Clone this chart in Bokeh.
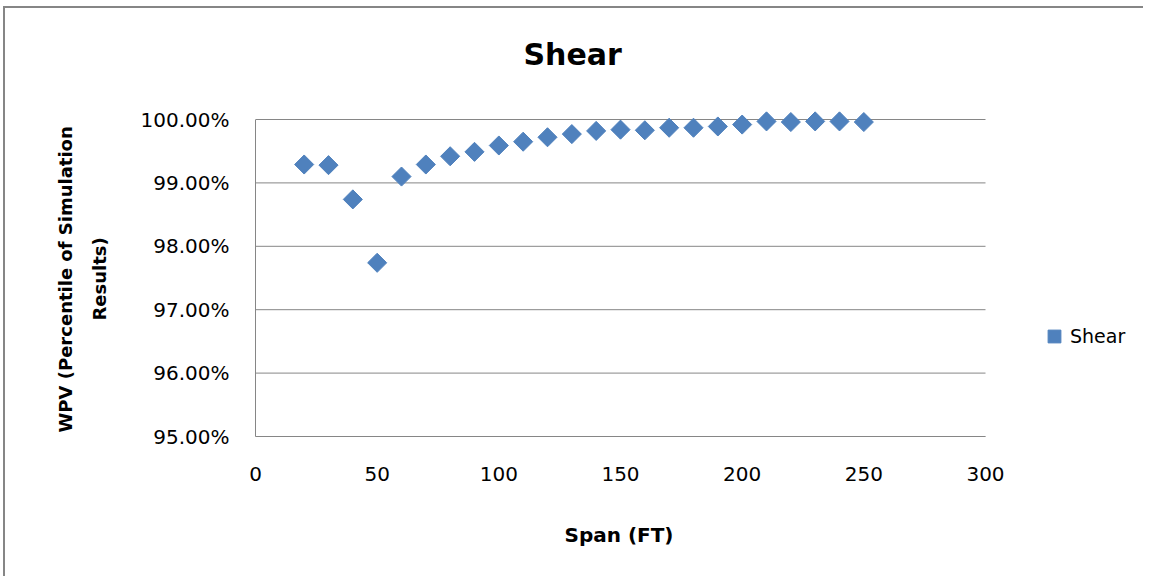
from bokeh.plotting import figure
from bokeh.models import (FixedTicker, PrintfTickFormatter, Range1d, Legend, LegendItem, Title)
from bokeh.embed import file_html
from bokeh.resources import INLINE
import math

span_ft = [20, 30, 40, 50, 60, 70, 80, 90, 100, 110, 120, 130, 140, 150,
           160, 170, 180, 190, 200, 210, 220, 230, 240, 250]
shear_pct = [99.29, 99.28, 98.74, 97.74, 99.10, 99.29, 99.42, 99.49, 99.59, 99.65,
             99.72, 99.77, 99.82, 99.84, 99.83, 99.87, 99.87, 99.89, 99.92, 99.97,
             99.96, 99.97, 99.97, 99.96]
x_ticks = [0, 50, 100, 150, 200, 250, 300]
y_ticks = [95, 96, 97, 98, 99, 100]
x_axis_min, x_axis_max = 0, 300
y_axis_min, y_axis_max = 95, 100

FONT = "DejaVu Sans"
GRID = "#868686"

# frame: axis area 730px x 317px; extra room right (legend) and top (markers)
px_x = 730 / (x_axis_max - x_axis_min)
px_y = 317 / (y_axis_max - y_axis_min)
frame_w = 890
extra_top = 21
x_end = x_axis_min + frame_w / px_x
y_end = y_axis_max + extra_top / px_y

p = figure(width=1140, height=570, output_backend="svg", toolbar_location=None,
           x_range=Range1d(x_axis_min, x_end), y_range=Range1d(y_axis_min, y_end),
           min_border_left=250, min_border_top=90, min_border_bottom=142,
           min_border_right=0)
p.styles = {"border-left": "2px solid #868686", "border-top": "2px solid #868686",
            "margin-left": "3px", "margin-top": "6px"}
p.outline_line_color = None
p.xgrid.visible = False
p.ygrid.visible = False

# horizontal gridlines at the value-axis ticks
p.segment(x0=[x_axis_min] * len(y_ticks), y0=y_ticks,
          x1=[x_axis_max] * len(y_ticks), y1=y_ticks,
          line_color=GRID, line_width=1)

r = p.scatter(span_ft, shear_pct, marker="square", size=13.5, angle=math.pi / 4,
              fill_color="#4F81BD", line_color="#4F81BD")

p.xaxis.ticker = FixedTicker(ticks=x_ticks)
p.yaxis.ticker = FixedTicker(ticks=y_ticks)
p.xaxis.bounds = (x_axis_min, x_axis_max)
p.yaxis.bounds = (y_axis_min, y_axis_max)
p.yaxis.formatter = PrintfTickFormatter(format="%.2f%%")
for ax in (p.xaxis[0], p.yaxis[0]):
    ax.major_tick_line_color = None
    ax.minor_tick_line_color = None
    ax.major_tick_out = 0
    ax.major_tick_in = 0
    ax.minor_tick_out = 0
    ax.minor_tick_in = 0
    ax.axis_line_color = GRID
    ax.major_label_text_font = FONT
    ax.major_label_text_font_size = "20px"
    ax.major_label_text_color = "#000000"
    # blank label used only as spacing before the axis titles
    ax.axis_label = " "
    ax.axis_label_text_font_size = "1px"
p.yaxis.major_label_standoff = 26
p.xaxis.major_label_standoff = 30
p.yaxis.axis_label_standoff = 23
p.xaxis.axis_label_standoff = 29

p.add_layout(Title(text="Span (FT)", align="left", offset=309,
                   text_font=FONT, text_font_style="bold", text_font_size="20px",
                   text_color="#000000", standoff=8), "below")
p.add_layout(Title(text="Results)", align="left", offset=116,
                   text_font=FONT, text_font_style="bold", text_font_size="18px",
                   text_color="#000000", standoff=2), "left")
p.add_layout(Title(text="WPV (Percentile of Simulation", align="left", offset=4,
                   text_font=FONT, text_font_style="bold", text_font_size="18px",
                   text_color="#000000", standoff=20), "left")

p.title.text = "Shear"
p.title.text_font = FONT
p.title.text_font_size = "30px"
p.title.text_font_style = "bold"
p.title.text_color = "#000000"
p.title.align = "left"
p.title.offset = 268
p.title.standoff = 53

legend = Legend(items=[LegendItem(label="Shear", renderers=[r])], location=(783, 84),
                label_text_font=FONT, label_text_font_size="19px", label_text_color="#000000",
                border_line_color=None, background_fill_alpha=0, padding=4, margin=0,
                glyph_width=32, glyph_height=32, label_standoff=0)
p.add_layout(legend, "center")

open("out.html", "w").write(file_html(p, INLINE))
